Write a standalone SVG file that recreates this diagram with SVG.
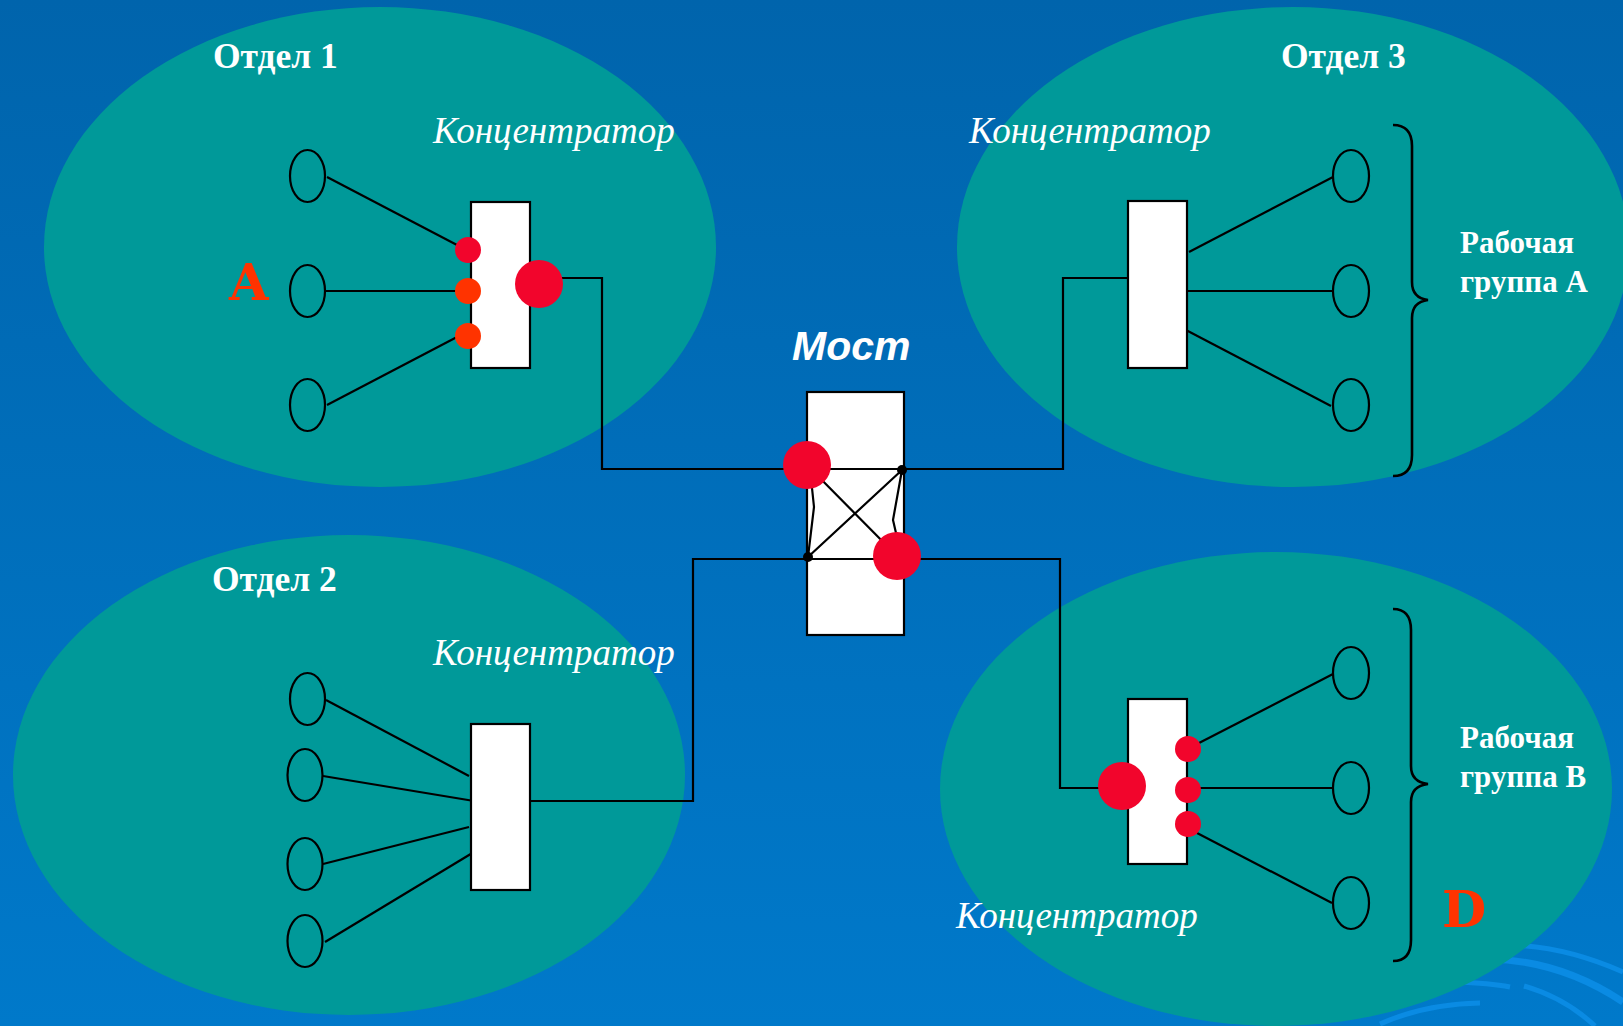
<svg xmlns="http://www.w3.org/2000/svg" width="1623" height="1026" viewBox="0 0 1623 1026">
<defs>
<linearGradient id="bg" x1="0" y1="0" x2="0" y2="1">
<stop offset="0" stop-color="#0064AC"/>
<stop offset="1" stop-color="#0079CA"/>
</linearGradient>
<style>
.dept{fill:#009999;}
.ws{fill:none;stroke:#000;stroke-width:2.2;}
.hub{fill:#fff;stroke:#000;stroke-width:2.2;}
.wire{fill:none;stroke:#000;stroke-width:2.2;}
.brace{fill:none;stroke:#000;stroke-width:2.6;}
.red{fill:#F2052C;}
.orange{fill:#FF3300;}
.bk{fill:#000;}
.swirl{fill:none;stroke:#0A8BE3;stroke-linecap:butt;}
.title{font-family:"Liberation Serif","Times New Roman",serif;font-weight:bold;font-size:35.5px;fill:#fff;}
.grp{font-family:"Liberation Serif","Times New Roman",serif;font-weight:bold;font-size:31px;fill:#fff;}
.conc{font-family:"Liberation Serif","Times New Roman",serif;font-style:italic;font-size:37px;fill:#fff;}
.most{font-family:"Liberation Sans",Arial,sans-serif;font-style:italic;font-weight:bold;font-size:41px;fill:#fff;}
.letter{font-family:"DejaVu Serif","Liberation Serif",serif;font-weight:bold;font-size:51px;fill:#FF3300;}
</style>
</defs>
<rect x="0" y="0" width="1623" height="1026" fill="url(#bg)"/>
<g id="decor">
<path class="swirl" stroke-width="5" d="M1500,945 Q1560,944 1623,972"/>
<path class="swirl" stroke-width="7" d="M1488,959 Q1560,960 1623,1002"/>
<path class="swirl" stroke-width="5" d="M1455,982 Q1490,983 1510,987"/>
<path class="swirl" stroke-width="5" d="M1524,986 Q1565,998 1595,1026"/>
<path class="swirl" stroke-width="5" d="M1380,1024 Q1425,1004 1480,1003"/>
</g>
<g id="departments">
<ellipse id="dept1" class="dept" cx="380" cy="247" rx="336" ry="240"/>
<ellipse id="dept3" class="dept" cx="1293" cy="247" rx="336" ry="240"/>
<ellipse id="dept2" class="dept" cx="349" cy="775" rx="336" ry="240"/>
<ellipse id="dept4" class="dept" cx="1276" cy="789" rx="336" ry="237"/>
</g>
<g id="labels">
<text class="title" x="213" y="68">Отдел 1</text>
<text class="title" x="1281" y="68">Отдел 3</text>
<text class="title" x="212" y="591">Отдел 2</text>
<text class="conc" x="433" y="143">Концентратор</text>
<text class="conc" x="969" y="143">Концентратор</text>
<text class="conc" x="433" y="665">Концентратор</text>
<text class="conc" x="956" y="928">Концентратор</text>
<text class="most" x="792" y="360">Мост</text>
<text class="grp" x="1460" y="253">Рабочая</text>
<text class="grp" x="1460" y="292">группа А</text>
<text class="grp" x="1460" y="748">Рабочая</text>
<text class="grp" x="1460" y="787">группа В</text>
<text class="letter" x="229" y="300">A</text>
<text class="letter" x="1442" y="927">D</text>
<path class="brace" d="M1393,125 Q1412,125 1412,146 L1412,282 Q1412,298 1428,300 Q1412,302 1412,318 L1412,455 Q1412,476 1393,476"/>
<path class="brace" d="M1393,609 Q1411,609 1411,630 L1411,766 Q1411,782 1428,784 Q1411,786 1411,802 L1411,940 Q1411,961 1393,961"/>
</g>
<g id="connectors">
<path class="wire" d="M327,177 L457,245"/>
<path class="wire" d="M325,291 L458,291"/>
<path class="wire" d="M327,405 L457,337"/>
<path class="wire" d="M560,278 L602,278 L602,469 L1063,469 L1063,278 L1128,278"/>
<path class="wire" d="M1189,252 L1333,177"/>
<path class="wire" d="M1187,291 L1333,291"/>
<path class="wire" d="M1184,329 L1331,406"/>
<path class="wire" d="M326,700 L469,776"/>
<path class="wire" d="M323,776 L474,801"/>
<path class="wire" d="M323,864 L469,827"/>
<path class="wire" d="M325,942 L474,852"/>
<path class="wire" d="M530,801 L693,801 L693,559 L1060,559 L1060,788 L1100,788"/>
<path class="wire" d="M1199,743 L1333,674"/>
<path class="wire" d="M1195,788 L1333,788"/>
<path class="wire" d="M1197,833 L1332,903"/>
</g>
<g id="hub1">
<rect class="hub" x="471" y="202" width="59" height="166"/>
<circle class="red" cx="468" cy="250" r="13"/>
<circle class="orange" cx="468" cy="291" r="13"/>
<circle class="orange" cx="468" cy="336" r="13"/>
<circle class="red" cx="539" cy="284" r="24"/>
</g>
<g id="hub3">
<rect class="hub" x="1128" y="201" width="59" height="167"/>
</g>
<g id="hub2">
<rect class="hub" x="471" y="724" width="59" height="166"/>
</g>
<g id="hub4">
<rect class="hub" x="1128" y="699" width="59" height="165"/>
<circle class="red" cx="1122" cy="786" r="24"/>
<circle class="red" cx="1188" cy="749" r="13"/>
<circle class="red" cx="1188" cy="790" r="13"/>
<circle class="red" cx="1188" cy="824" r="13"/>
</g>
<g id="bridge">
<rect class="hub" x="807" y="392" width="97" height="243"/>
<path class="wire" d="M807,469 L904,469 M807,559 L904,559"/>
<path class="wire" d="M807,465 L897,556 M808,557 L902,470"/>
<path class="wire" d="M812,488 L814,507 L808,557 M902,470 L893,520 L896,533"/>
<circle class="bk" cx="902" cy="470" r="5"/>
<circle class="bk" cx="808" cy="557" r="5"/>
<circle class="red" cx="807" cy="465" r="24"/>
<circle class="red" cx="897" cy="556" r="24"/>
</g>
<g id="ws1a"><ellipse class="ws" cx="307.5" cy="176" rx="17.5" ry="26"/></g>
<g id="ws1b"><ellipse class="ws" cx="307.5" cy="291" rx="17.5" ry="26"/></g>
<g id="ws1c"><ellipse class="ws" cx="307.5" cy="405" rx="17.5" ry="26"/></g>
<g id="ws3a"><ellipse class="ws" cx="1351" cy="176" rx="18" ry="26"/></g>
<g id="ws3b"><ellipse class="ws" cx="1351" cy="291" rx="18" ry="26"/></g>
<g id="ws3c"><ellipse class="ws" cx="1351" cy="405" rx="18" ry="26"/></g>
<g id="ws2a"><ellipse class="ws" cx="307.5" cy="699" rx="17.5" ry="26"/></g>
<g id="ws2b"><ellipse class="ws" cx="305" cy="775" rx="17.5" ry="26"/></g>
<g id="ws2c"><ellipse class="ws" cx="305" cy="864" rx="17.5" ry="26"/></g>
<g id="ws2d"><ellipse class="ws" cx="305" cy="941" rx="17.5" ry="26"/></g>
<g id="ws4a"><ellipse class="ws" cx="1351" cy="673" rx="18" ry="26"/></g>
<g id="ws4b"><ellipse class="ws" cx="1351" cy="788" rx="18" ry="26"/></g>
<g id="ws4c"><ellipse class="ws" cx="1351" cy="903" rx="18" ry="26"/></g>
</svg>
